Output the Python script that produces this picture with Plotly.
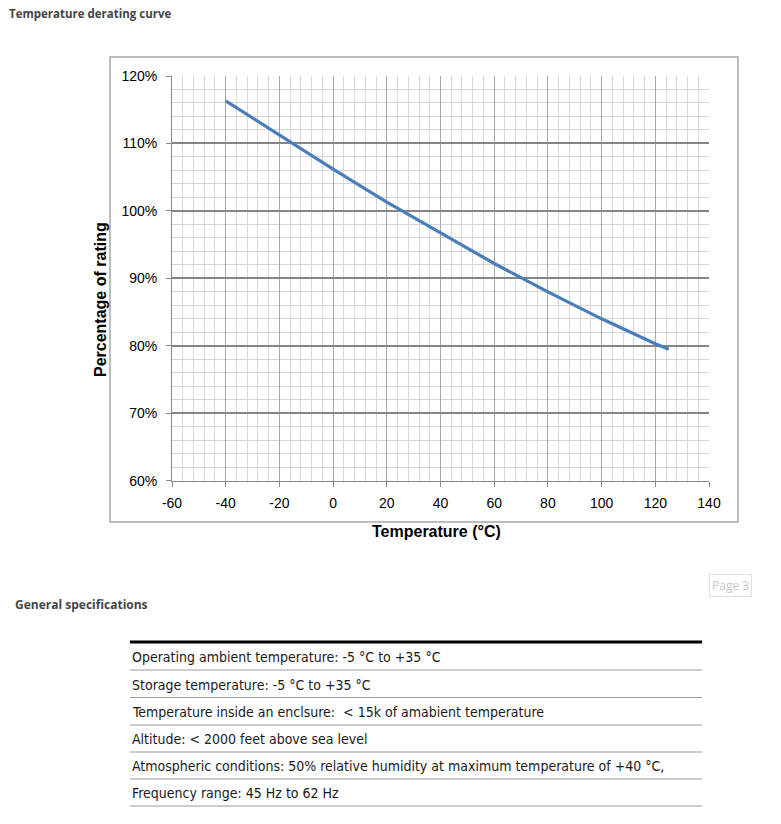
import plotly.graph_objects as go

# ---- data ----
temperature_c = [-40, -20, 0, 20, 40, 60, 80, 100, 120, 125]
rating_pct = [116.3, 111.2, 106.2, 101.3, 96.7, 92.2, 88.0, 84.0, 80.3, 79.5]

x_ticks = [-60, -40, -20, 0, 20, 40, 60, 80, 100, 120, 140]
x_tick_labels = ["-60", "-40", "-20", "0", "20", "40", "60", "80", "100", "120", "140"]
y_ticks = [60, 70, 80, 90, 100, 110, 120]
y_tick_labels = ["60%", "70%", "80%", "90%", "100%", "110%", "120%"]

spec_rows = [
    "Operating ambient temperature: -5 °C to +35 °C",
    "Storage temperature: -5 °C to +35 °C",
    "Temperature inside an enclsure:  < 15k of amabient temperature",
    "Altitude: < 2000 feet above sea level",
    "Atmospheric conditions: 50% relative humidity at maximum temperature of +40 °C,",
    "Frequency range: 45 Hz to 62 Hz",
]

W, H = 781, 824


def px(x):
    return x / W


def py(y):
    return 1 - y / H


fig = go.Figure()
fig.add_trace(go.Scatter(
    x=temperature_c, y=rating_pct, mode="lines",
    line=dict(color="#4a7ebb", width=3.2),
    showlegend=False, hoverinfo="skip",
))

axis_font = dict(family="Liberation Sans, Arial, sans-serif", size=14, color="#000")

fig.update_layout(
    width=W, height=H,
    margin=dict(l=0, r=0, t=0, b=0, autoexpand=False),
    paper_bgcolor="white", plot_bgcolor="white",
    xaxis=dict(
        domain=[px(172), px(709)], range=[-60, 140],
        tickvals=x_ticks, ticktext=x_tick_labels,
        ticks="outside", ticklen=5, tickcolor="#888",
        tickfont=axis_font, ticklabelstandoff=4,
        showgrid=True, gridcolor="#a8a8a8", gridwidth=1,
        minor=dict(dtick=4, showgrid=True, gridcolor="#d6d6d6", gridwidth=1),
        showline=True, linecolor="#888", linewidth=1,
        zeroline=False, fixedrange=True,
    ),
    yaxis=dict(
        domain=[py(480.7), py(76)], range=[60, 120],
        tickvals=y_ticks, ticktext=y_tick_labels,
        ticks="outside", ticklen=5, tickcolor="#888",
        tickfont=axis_font, ticklabelstandoff=6,
        showgrid=True, gridcolor="#858585", gridwidth=2,
        minor=dict(dtick=2, showgrid=True, gridcolor="#d6d6d6", gridwidth=1),
        showline=True, linecolor="#888", linewidth=1,
        zeroline=False, fixedrange=True,
    ),
)

shapes = []
# chart frame
shapes.append(dict(type="rect", xref="paper", yref="paper",
                   x0=px(110), x1=px(738), y0=py(522), y1=py(57),
                   line=dict(color="#a8a8a8", width=1.5), layer="below"))
# table lines
shapes.append(dict(type="line", xref="paper", yref="paper",
                   x0=px(130), x1=px(702), y0=py(642), y1=py(642),
                   line=dict(color="#000", width=3)))
sep_y = [670, 697.5, 725, 752, 779, 806]
for y in sep_y:
    shapes.append(dict(type="line", xref="paper", yref="paper",
                       x0=px(130), x1=px(702), y0=py(y), y1=py(y),
                       line=dict(color="#9a9a9a", width=1)))
fig.update_layout(shapes=shapes)

ann = []
ann.append(dict(text="<b>Temperature derating curve</b>", xref="paper", yref="paper",
                x=px(7), y=py(13), xanchor="left", yanchor="middle", showarrow=False,
                font=dict(family="Open Sans, sans-serif", size=11.5, color="#454545")))
ann.append(dict(text="<b>General specifications</b>", xref="paper", yref="paper",
                x=px(13), y=py(604), xanchor="left", yanchor="middle", showarrow=False,
                font=dict(family="Open Sans, sans-serif", size=12, color="#454545")))
ann.append(dict(text="<b>Percentage of rating</b>", xref="paper", yref="paper",
                x=px(100), y=py(300), xanchor="center", yanchor="middle", showarrow=False,
                textangle=-90,
                font=dict(family="Liberation Sans, Arial, sans-serif", size=16, color="#000")))
ann.append(dict(text="<b>Temperature (°C)</b>", xref="paper", yref="paper",
                x=px(436), y=py(531), xanchor="center", yanchor="middle", showarrow=False,
                font=dict(family="Liberation Sans, Arial, sans-serif", size=16, color="#000")))
ann.append(dict(text="Page 3", xref="paper", yref="paper",
                x=px(730), y=py(585), xanchor="center", yanchor="middle", showarrow=False,
                bordercolor="#e0e0e0", borderwidth=1, borderpad=2, bgcolor="white",
                font=dict(family="Open Sans, sans-serif", size=12, color="#c8c8c8")))
text_y = [657, 684.5, 711.5, 739, 766, 793]
for t, y in zip(spec_rows, text_y):
    ann.append(dict(text=t, xref="paper", yref="paper",
                    x=px(130), y=py(y), xanchor="left", yanchor="middle", showarrow=False,
                    font=dict(family="Liberation Sans Narrow, DejaVu Sans Condensed, sans-serif",
                              size=14, color="#1a1a1a")))
fig.update_layout(annotations=ann)

fig.write_html(
    "out.html",
    config={"displayModeBar": False},
    post_script="document.body.style.margin='0';document.body.style.overflow='hidden';",
)
